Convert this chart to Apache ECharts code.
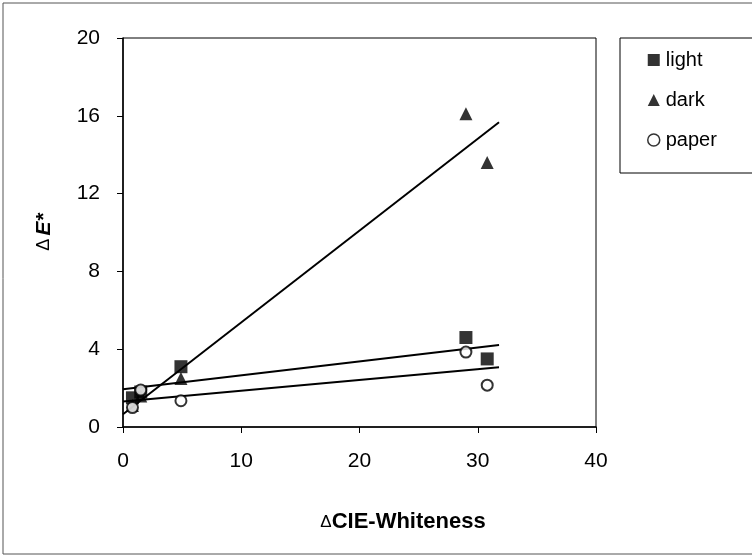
<!DOCTYPE html>
<html>
<head>
<meta charset="utf-8">
<script src="https://cdn.jsdelivr.net/npm/echarts@6/dist/echarts.min.js"></script>
<style>
html,body{margin:0;padding:0;background:#fff;}
#main{width:752px;height:556px;}
</style>
</head>
<body>
<div id="main"></div>
<script>
// values
var lightX = [0.8, 1.5, 4.9, 29.0, 30.8];
var lightY = [1.5, 1.8, 3.1, 4.6, 3.5];
var darkX = [0.8, 1.5, 4.9, 29.0, 30.8];
var darkY = [1.1, 1.6, 2.5, 16.1, 13.6];
var paperX = [0.8, 1.5, 4.9, 29.0, 30.8];
var paperY = [1.0, 1.9, 1.35, 3.85, 2.15];
var trendRange = [0, 31.8];
var xTicks = [0, 10, 20, 30, 40];
var yTicks = [0, 4, 8, 12, 16, 20];

function pairs(xs, ys) {
	var out = [];
	for (var i = 0; i < xs.length; i++) out.push([xs[i], ys[i]]);
	return out;
}
// least squares line, drawn over trendRange
function trend(xs, ys) {
	var n = xs.length, mx = 0, my = 0, sxy = 0, sxx = 0;
	for (var i = 0; i < n; i++) { mx += xs[i] / n; my += ys[i] / n; }
	for (var j = 0; j < n; j++) {
		sxy += (xs[j] - mx) * (ys[j] - my);
		sxx += (xs[j] - mx) * (xs[j] - mx);
	}
	var b = sxy / sxx, a = my - b * mx;
	return trendRange.map(function(x) { return [x, a + b * x]; });
}

var font = 'Liberation Sans, Arial, sans-serif';
var lineStyle = {color: '#000', width: 2};

function trendSeries(xs, ys) {
	return {
		type: 'line', data: trend(xs, ys), symbol: 'none', silent: true,
		lineStyle: lineStyle, z: 1
	};
}

var option = {
	animation: false,
	backgroundColor: '#fff',
	grid: {left: 123, right: 156, top: 38, bottom: 129, show: true, borderColor: '#000', borderWidth: 1},
	xAxis: {
		type: 'value', min: xTicks[0], max: xTicks[xTicks.length - 1], interval: 10,
		axisLine: {lineStyle: {color: '#000', width: 1.5}},
		axisTick: {length: 6, lineStyle: {color: '#000'}},
		splitLine: {show: false},
		axisLabel: {color: '#000', fontSize: 21, fontFamily: font, margin: 24}
	},
	yAxis: {
		type: 'value', min: yTicks[0], max: yTicks[yTicks.length - 1], interval: 4,
		axisLine: {lineStyle: {color: '#000', width: 1.5}},
		axisTick: {length: 6, lineStyle: {color: '#000'}},
		splitLine: {show: false},
		axisLabel: {color: '#000', fontSize: 21, fontFamily: font, margin: 23}
	},
	legend: {
		left: 642, top: 45, orient: 'vertical', itemGap: 20,
		itemWidth: 12, itemHeight: 12,
		textStyle: {color: '#000', fontSize: 20, fontFamily: font, padding: [0, 0, 0, 1]},
		data: [
			{name: 'light', icon: 'rect'},
			{name: 'dark', icon: 'triangle'},
			{name: 'paper', icon: 'circle', itemStyle: {color: '#fff', borderColor: '#000', borderWidth: 1.5}}
		]
	},
	graphic: [
		{type: 'rect', shape: {x: 3, y: 3, width: 760, height: 551}, silent: true, z: -10,
			style: {fill: 'none', stroke: '#555', lineWidth: 1}},
		{type: 'rect', shape: {x: 620, y: 38, width: 140, height: 135}, silent: true,
			style: {fill: '#fff', stroke: '#000', lineWidth: 1}, z: -1},
		{type: 'text', x: 44, y: 232, rotation: Math.PI / 2, silent: true,
			style: {
				text: '{d|Δ} {e|E*}', align: 'center', verticalAlign: 'middle',
				rich: {
					d: {fontSize: 18, fontFamily: font, fill: '#000'},
					e: {fontSize: 21, fontFamily: font, fontWeight: 'bold', fontStyle: 'italic', fill: '#000'}
				}
			}},
		{type: 'text', x: 403, y: 522, silent: true,
			style: {
				text: '{d|Δ}{t|CIE-Whiteness}', align: 'center', verticalAlign: 'middle',
				rich: {
					d: {fontSize: 17, fontFamily: font, fill: '#000'},
					t: {fontSize: 22, fontFamily: font, fontWeight: 'bold', fill: '#000'}
				}
			}}
	],
	series: [
		trendSeries(lightX, lightY),
		trendSeries(darkX, darkY),
		trendSeries(paperX, paperY),
		{name: 'light', type: 'scatter', data: pairs(lightX, lightY), symbol: 'rect', symbolSize: 13,
			itemStyle: {color: '#000'}, z: 3},
		{name: 'dark', type: 'scatter', data: pairs(darkX, darkY), symbol: 'triangle', symbolSize: 13,
			itemStyle: {color: '#000'}, z: 3},
		{name: 'paper', type: 'scatter', data: pairs(paperX, paperY), symbol: 'circle', symbolSize: 11,
			itemStyle: {color: '#fff', borderColor: '#000', borderWidth: 2}, z: 4}
	]
};

var myChart = echarts.init(document.getElementById('main'));
myChart.setOption(option);
</script>
</body>
</html>
